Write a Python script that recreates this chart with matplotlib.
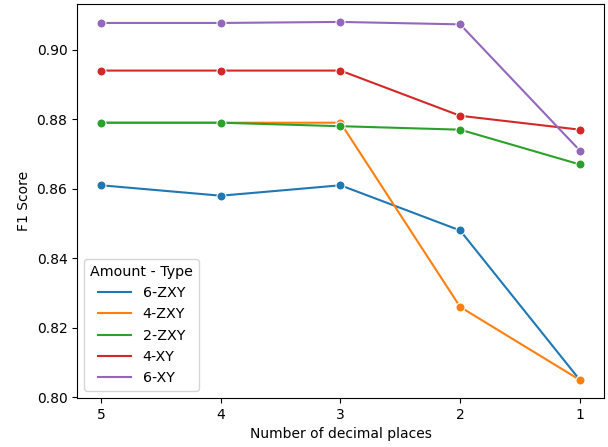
import matplotlib
matplotlib.use('Agg')
import matplotlib.pyplot as plt
from matplotlib.lines import Line2D
import pandas as pd
import seaborn as sns

decimals = ['5', '4', '3', '2', '1']
series_names = ['6-ZXY', '4-ZXY', '2-ZXY', '4-XY', '6-XY']
zxy6 = [0.861, 0.858, 0.861, 0.848, 0.805]
zxy4 = [0.879, 0.879, 0.879, 0.826, 0.805]
zxy2 = [0.879, 0.879, 0.878, 0.877, 0.867]
xy4 = [0.894, 0.894, 0.894, 0.881, 0.877]
xy6 = [0.9077, 0.9077, 0.908, 0.9073, 0.871]

rows = []
for name, vals in zip(series_names, [zxy6, zxy4, zxy2, xy4, xy6]):
    for d, v in zip(decimals, vals):
        rows.append({'Number of decimal places': d, 'F1 Score': v, 'Amount - Type': name})
df = pd.DataFrame(rows)

fig, ax = plt.subplots(figsize=(6.08, 4.47), dpi=100)
sns.lineplot(data=df, x='Number of decimal places', y='F1 Score', hue='Amount - Type',
             marker='o', markersize=6.5, markeredgecolor='white', ax=ax)

# legend with plain lines, no markers
handles, labels = ax.get_legend_handles_labels()
plain = [Line2D([], [], color=h.get_color(), lw=1.5) for h in handles]
ax.legend(plain, labels, title='Amount - Type', loc='lower left',
          fontsize=10.3, title_fontsize=10.3, handlelength=2.3)
plt.subplots_adjust(left=0.127, right=0.993, top=0.991, bottom=0.110)
plt.savefig('out.png')
